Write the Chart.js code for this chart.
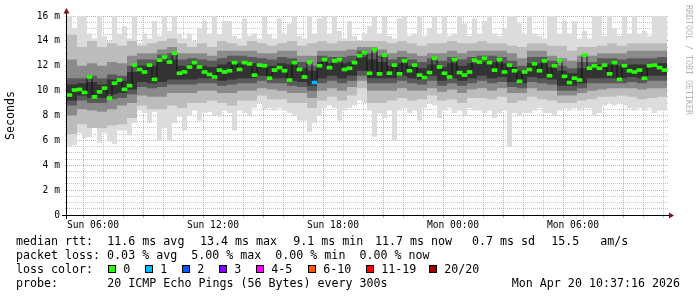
<!DOCTYPE html>
<html><head><meta charset="utf-8">
<script src="https://cdn.jsdelivr.net/npm/chart.js@4.4.1/dist/chart.umd.min.js"></script>
<style>html,body{margin:0;padding:0;background:#fff}canvas{display:block}</style>
</head><body>
<canvas id="c" width="697" height="297"></canvas>
<script>
// ---- time axis (hours since Sun 00:00) ----
const startHour = 4.7;
const axisMaxHour = 34.75;
const fineStepH = 0.25;   // 15 min samples
const coarseStepH = 0.5;  // 30 min samples

// ---- median RTT (ms), one value per 15 min ----
const medianRtt = [
 9.65,10.05,10.1,9.85,11.1,9.5,9.9,10.2,9.4,10.6,
 10.85,10.1,10.4,12.05,11.7,11.5,12.05,10.9,12.45,12.7,
 12.3,13.0,11.4,11.5,11.9,12.25,11.9,11.5,11.3,11.1,
 11.65,11.5,11.6,12.25,11.7,12.25,12.15,11.25,12.05,12.0,
 11.0,11.65,11.85,11.6,10.85,12.25,11.7,11.1,12.3,10.65,
 12.0,12.5,11.85,12.4,12.5,11.7,11.8,12.25,12.8,13.05,
 11.4,13.3,11.35,12.85,11.4,12.05,11.35,12.4,11.6,12.05,
 11.25,11.05,11.45,12.6,11.9,11.4,11.1,12.5,11.45,11.25,
 11.5,12.45,12.3,12.6,12.25,11.65,12.5,11.5,12.05,11.6,
 10.75,11.5,11.7,12.15,11.6,12.4,11.2,12.0,12.4,11.15,
 10.65,11.0,10.85,12.85,11.8,12.0,11.8,12.05,11.35,12.25,
 10.9,12.0,11.6,11.5,11.65,11.0,12.0,12.05,11.85,11.65];
// samples with packet loss: [sample index, lost pings]
const lossEvents = [[49, 1]];

// ---- outer smoke (slowest / fastest ping, ms), one value per 15 min ----
const pingMax = [
 16.2,15.0,16.0,16.2,14.6,14.2,16.0,14.4,14.0,16.2,
 14.6,15.2,14.2,16.2,13.8,14.6,14.2,15.6,14.4,16.2,
 14.8,16.0,14.6,14.2,14.6,14.0,15.0,15.6,14.6,16.2,
 14.5,15.6,15.6,14.4,14.2,15.8,14.4,14.6,14.2,16.2,
 14.5,14.2,15.8,14.6,15.4,16.1,14.4,14.2,16.2,14.6,
 15.8,16.0,14.6,16.0,14.8,14.2,15.6,14.4,14.0,14.6,
 15.2,16.2,14.6,16.0,14.4,14.2,15.8,16.0,14.4,14.6,
 16.0,14.4,15.0,16.2,14.6,16.1,14.4,14.6,16.0,15.4,
 14.4,15.8,14.6,15.6,16.0,14.6,14.4,15.0,16.2,16.2,
 15.4,14.6,16.2,14.6,14.4,14.2,16.0,16.2,14.6,15.6,
 14.6,15.6,14.2,14.8,14.2,16.0,16.2,14.4,16.2,15.0,
 14.4,16.2,14.6,16.0,14.6,14.8,14.4,16.2,16.0,16.2];
const pingMin = [
 5.5,5.6,6.6,6.2,6.3,7.0,5.8,6.6,5.9,5.7,
 6.8,6.8,6.4,7.4,8.4,8.2,7.4,8.3,6.0,7.0,
 6.0,7.4,7.9,6.8,8.0,8.4,7.6,8.2,8.3,8.0,
 7.9,8.4,8.2,6.8,8.4,8.2,8.0,8.6,9.0,8.5,
 8.6,8.4,8.6,8.4,8.2,8.0,7.6,7.6,6.7,7.4,
 8.0,8.6,8.8,8.6,7.6,8.4,8.6,8.8,9.2,9.0,
 8.4,6.3,8.2,7.8,8.4,6.0,8.4,8.6,8.2,8.4,
 7.6,8.6,9.0,8.8,7.8,8.4,8.6,8.2,8.4,8.0,
 8.6,8.4,8.4,8.2,8.4,7.8,8.2,8.4,5.5,8.2,
 8.0,8.2,8.2,8.4,8.6,8.2,8.2,8.0,8.4,8.6,
 8.4,8.6,8.4,8.6,8.6,8.0,8.2,8.8,9.0,8.8,
 9.0,8.8,8.6,8.4,8.6,8.4,8.6,8.2,8.4,8.4];

// ---- inner smoke bands (ms), one value per 30 min ----
const band2Hi = [
 14.5,13.5,14.0,13.5,13.8,13.6,14.0,13.6,13.8,14.0,
 14.2,13.8,13.5,13.8,13.5,14.0,13.8,13.6,14.0,13.8,
 13.6,13.8,14.0,13.6,13.8,14.0,13.8,14.0,14.0,14.0,
 14.0,14.0,13.8,14.0,13.8,13.6,13.8,13.8,14.0,13.8,
 13.8,14.0,13.8,13.8,13.6,13.5,13.8,13.8,13.6,13.6,
 13.2,13.5,13.5,13.6,13.8,13.6,13.8,13.8,13.8,13.8];
const band2Lo = [
 6.5,7.3,7.0,7.0,7.2,7.3,7.8,8.8,8.5,8.5,
 8.8,8.6,9.0,9.0,9.2,9.0,8.8,9.2,9.2,9.6,
 9.3,9.3,9.0,9.0,8.6,9.2,9.5,9.2,9.6,10.2,
 9.0,9.0,9.2,9.4,9.2,9.3,9.6,9.2,9.3,9.0,
 9.4,9.4,9.3,9.5,9.0,9.2,9.5,9.3,9.2,9.0,
 9.0,9.2,9.3,9.5,9.5,9.6,9.5,9.3,9.4,9.5];
const band3Hi = [
 12.5,12.0,12.2,12.0,12.3,12.2,12.8,13.0,13.0,13.3,
 13.5,13.0,13.0,13.0,12.8,13.2,13.2,13.2,13.2,13.0,
 13.0,13.2,13.2,12.8,12.8,13.2,13.2,13.2,13.3,13.5,
 13.5,13.3,13.0,13.2,13.0,12.8,13.0,13.0,13.2,13.0,
 13.2,13.2,13.2,13.2,13.0,12.6,13.2,13.2,12.8,12.6,
 12.4,12.8,12.8,13.0,13.0,13.0,13.2,13.2,13.2,13.2];
const band3Lo = [
 8.0,8.5,8.4,8.3,8.5,8.8,9.0,9.6,9.5,9.5,
 9.8,9.8,9.8,10.0,10.0,9.8,9.8,10.0,10.0,10.2,
 10.1,10.0,9.8,9.8,9.4,10.0,10.2,10.0,10.3,10.8,
 10.0,10.0,10.0,10.2,10.0,10.0,10.2,9.9,10.1,9.8,
 10.1,10.2,10.0,10.2,9.8,9.8,10.2,10.0,10.0,9.6,
 9.6,9.8,10.0,10.1,10.2,10.2,10.2,10.1,10.2,10.2];
const band4Hi = [
 11.0,11.0,11.2,11.0,11.3,11.2,12.0,12.5,12.5,12.9,
 13.0,12.5,12.6,12.5,12.4,12.6,12.8,12.8,12.7,12.6,
 12.5,12.7,12.6,12.3,12.0,12.8,12.7,12.7,12.8,13.2,
 13.0,12.8,12.5,12.7,12.5,12.3,12.6,12.4,12.7,12.5,
 12.7,12.8,12.8,12.7,12.4,12.0,12.7,12.7,12.4,12.0,
 11.8,12.3,12.3,12.6,12.6,12.5,12.6,12.6,12.6,12.7];
const band4Lo = [
 8.8,9.2,9.0,9.0,9.3,9.4,9.7,10.3,10.2,10.3,
 10.5,10.5,10.5,10.6,10.6,10.4,10.5,10.6,10.6,10.8,
 10.6,10.6,10.4,10.3,10.0,10.6,10.8,10.6,10.8,11.2,
 10.6,10.6,10.6,10.8,10.6,10.5,10.8,10.4,10.6,10.4,
 10.6,10.8,10.6,10.7,10.3,10.2,10.7,10.6,10.5,10.0,
 10.0,10.2,10.6,10.6,10.6,10.6,10.7,10.6,10.8,10.8];
const coreHi = [
 10.5,10.6,10.7,10.5,10.9,10.8,11.5,12.0,12.0,12.4,
 12.5,12.0,12.1,12.0,11.9,12.1,12.3,12.2,12.2,12.1,
 12.0,12.2,12.1,11.8,11.6,12.3,12.2,12.2,12.3,12.7,
 12.5,12.3,12.0,12.2,12.0,11.8,12.1,11.9,12.2,12.0,
 12.2,12.3,12.3,12.2,11.9,11.6,12.2,12.2,11.9,11.6,
 11.4,11.8,11.8,12.1,12.1,12.0,12.1,12.1,12.1,12.2];
const coreLo = [
 9.2,9.6,9.4,9.4,9.7,9.8,10.1,10.7,10.6,10.7,
 10.9,10.9,10.9,11.0,11.0,10.8,10.9,11.0,11.0,11.2,
 11.0,11.0,10.8,10.7,10.4,11.0,11.2,11.0,11.2,11.6,
 11.0,11.0,11.0,11.2,11.0,10.9,11.2,10.8,11.0,10.8,
 11.0,11.2,11.0,11.1,10.7,10.6,11.1,11.0,10.9,10.4,
 10.4,10.6,11.0,11.0,11.0,11.0,11.1,11.0,11.2,11.2];

// ---- ticks ----
const xTickHours = [6, 12, 18, 24, 30];
const xTickLabels = ['Sun 06:00', 'Sun 12:00', 'Sun 18:00', 'Mon 00:00', 'Mon 06:00'];
const yTickValues = [0, 2, 4, 6, 8, 10, 12, 14, 16];
const yTickLabels = ['0', '2 m', '4 m', '6 m', '8 m', '10 m', '12 m', '14 m', '16 m'];

// ---- legend ----
const rttStats = ['median rtt:', '11.6 ms avg', '13.4 ms max', '9.1 ms min', '11.7 ms now', '0.7 ms sd', '15.5', 'am/s'];
const lossStatsLine = 'packet loss: 0.03 % avg  5.00 % max  0.00 % min  0.00 % now';
const lossLabels = ['0', '1', '2', '3', '4-5', '6-10', '11-19', '20/20'];
const lossColors = ['#26ff00', '#00b8ff', '#0059ff', '#7e00ff', '#ff00ff', '#ff5500', '#ff0000', '#a00000'];
const probeText = '20 ICMP Echo Pings (56 Bytes) every 300s';
const dateText = 'Mon Apr 20 10:37:16 2026';

// ---------------------------------------------------------------
const MONO = '"DejaVu Sans Mono", "Liberation Mono", monospace';
const minorGrid = 'rgba(150,150,150,0.55)';
const majorGrid = 'rgba(225,90,90,0.6)';

function stepSeries(vals, step) {
  const pts = vals.map((v, i) => ({x: startHour + i * step, y: v}));
  pts.push({x: startHour + vals.length * step, y: vals[vals.length - 1]});
  return pts;
}
const lossByIndex = medianRtt.map(() => 0);
lossEvents.forEach(([i, n]) => { lossByIndex[i] = n; });
function lossColorIndex(n) {
  if (n <= 3) return n;
  if (n <= 5) return 4;
  if (n <= 10) return 5;
  if (n <= 19) return 6;
  return 7;
}
const halfDash = 0.12;
const medianBars = medianRtt.map((v, i) => ({x: startHour + (i + 0.5) * fineStepH, y: [v - halfDash, v + halfDash]}));
const medianBarColors = lossByIndex.map(n => lossColors[lossColorIndex(n)]);

const noLine = 'rgba(0,0,0,0)';
function band(hi, lo, step, color, loIndex) {
  return [
    {type: 'line', data: stepSeries(hi, step), stepped: true, borderColor: noLine, borderWidth: 0, pointRadius: 0, fill: {target: loIndex}, backgroundColor: color},
    {type: 'line', data: stepSeries(lo, step), stepped: true, borderColor: noLine, borderWidth: 0, pointRadius: 0, fill: false}
  ];
}

const datasets = [
  {type: 'bar', data: medianBars, backgroundColor: medianBarColors, borderWidth: 0, barPercentage: 1, categoryPercentage: 1},
  {type: 'line', data: stepSeries(medianRtt, fineStepH), stepped: true, borderColor: '#111', borderWidth: 1, pointRadius: 0, fill: false},
  ...band(coreHi, coreLo, coarseStepH, '#333333', 3),
  ...band(band4Hi, band4Lo, coarseStepH, '#595959', 5),
  ...band(band3Hi, band3Lo, coarseStepH, '#8a8a8a', 7),
  ...band(band2Hi, band2Lo, coarseStepH, '#bcbcbc', 9),
  ...band(pingMax, pingMin, fineStepH, '#dcdcdc', 11)
];

const extras = {
  id: 'extras',
  beforeDraw(chart) {
    const c = chart.ctx;
    c.save(); c.fillStyle = '#fff'; c.fillRect(0, 0, chart.width, chart.height); c.restore();
  },
  afterDraw(chart) {
    const c = chart.ctx, a = chart.chartArea;
    c.save();
    // axes
    c.strokeStyle = '#000'; c.lineWidth = 1; c.setLineDash([]);
    c.beginPath();
    c.moveTo(62, a.bottom + 0.5); c.lineTo(a.right + 1, a.bottom + 0.5);
    c.moveTo(a.left - 0.5, a.bottom + 4); c.lineTo(a.left - 0.5, a.top - 3);
    c.stroke();
    c.fillStyle = '#7a1414';
    c.beginPath();
    c.moveTo(a.left - 0.5, a.top - 8); c.lineTo(a.left - 3.5, a.top - 2.5); c.lineTo(a.left + 2.5, a.top - 2.5); c.closePath(); c.fill();
    c.beginPath();
    c.moveTo(a.right + 6, a.bottom + 0.5); c.lineTo(a.right + 1, a.bottom - 2.5); c.lineTo(a.right + 1, a.bottom + 3.5); c.closePath(); c.fill();

    // legend
    c.fillStyle = '#000';
    c.font = '11.65px ' + MONO;
    c.textBaseline = 'alphabetic';
    c.textAlign = 'left';
    const rttX = [16, 107.3, 200, 293.3, 375, 472, 551.3, 600.3];
    rttStats.forEach((t, i) => c.fillText(t, rttX[i], 245));
    c.fillText(lossStatsLine, 16, 259);
    c.fillText('loss color:', 16, 273);
    const boxX = [108.5, 145.5, 182.5, 219.5, 256.5, 308.5, 366.5, 429.5];
    lossLabels.forEach((t, i) => {
      c.fillStyle = lossColors[i];
      c.fillRect(boxX[i], 265.5, 7, 7);
      c.strokeStyle = '#000';
      c.strokeRect(boxX[i], 265.5, 7, 7);
      c.fillStyle = '#000';
      c.fillText(t, boxX[i] + 14.8, 273);
    });
    c.fillText('probe:', 16, 287);
    c.fillText(probeText, 107.3, 287);
    c.textAlign = 'right';
    c.fillText(dateText, 680, 287);

    // watermark
    c.translate(688, 5);
    c.rotate(Math.PI / 2);
    c.textAlign = 'left';
    c.textBaseline = 'middle';
    c.font = '8.3px ' + MONO;
    c.fillStyle = '#b4b4b4';
    c.fillText('RRDTOOL / TOBI OETIKER', 0, 0);
    c.restore();
  }
};

new Chart(document.getElementById('c'), {
  type: 'line',
  data: {datasets},
  options: {
    responsive: false,
    animation: false,
    devicePixelRatio: 1,
    events: [],
    layout: {padding: {top: 16, right: 29, bottom: 0, left: 0}},
    plugins: {legend: {display: false}, tooltip: {enabled: false}},
    scales: {
      x: {
        type: 'linear', min: startHour, max: axisMaxHour, offset: false,
        afterBuildTicks: s => { const t = []; for (let h = 5; h <= 34; h++) t.push({value: h}); s.ticks = t; },
        afterFit: s => { s.height = 82; },
        grid: {
          color: c => (c.tick && c.tick.value % 3 === 0) ? majorGrid : minorGrid,
          tickColor: c => (c.tick && c.tick.value % 3 === 0) ? majorGrid : minorGrid,
          lineWidth: 1, drawTicks: true, tickLength: 3, tickBorderDash: []
        },
        border: {display: false, dash: [1, 1]},
        ticks: {
          autoSkip: false, maxRotation: 0, minRotation: 0, padding: 2, color: '#000',
          font: {family: MONO, size: 9.65},
          callback: v => { const k = xTickHours.indexOf(v); return k >= 0 ? xTickLabels[k] : ''; }
        }
      },
      y: {
        type: 'linear', min: 0, max: 16,
        afterBuildTicks: s => { const t = []; for (let v = 0; v <= 16; v += 0.5) t.push({value: v}); s.ticks = t; },
        afterFit: s => { s.width = 67; },
        grid: {
          color: c => (c.tick && c.tick.value % 2 === 0) ? majorGrid : minorGrid,
          tickColor: c => (c.tick && c.tick.value % 2 === 0) ? majorGrid : minorGrid,
          lineWidth: 1, drawTicks: true, tickLength: 2, tickBorderDash: []
        },
        border: {display: false, dash: [1, 1]},
        title: {display: true, text: 'Seconds', color: '#000', font: {family: MONO, size: 11.65}, padding: {top: 4, bottom: 4}},
        ticks: {
          autoSkip: false, padding: 5, color: '#000',
          font: {family: MONO, size: 9.65},
          callback: v => { const k = yTickValues.indexOf(v); return k >= 0 ? yTickLabels[k] : ''; }
        }
      }
    }
  },
  plugins: [extras]
});
</script>
</body></html>
